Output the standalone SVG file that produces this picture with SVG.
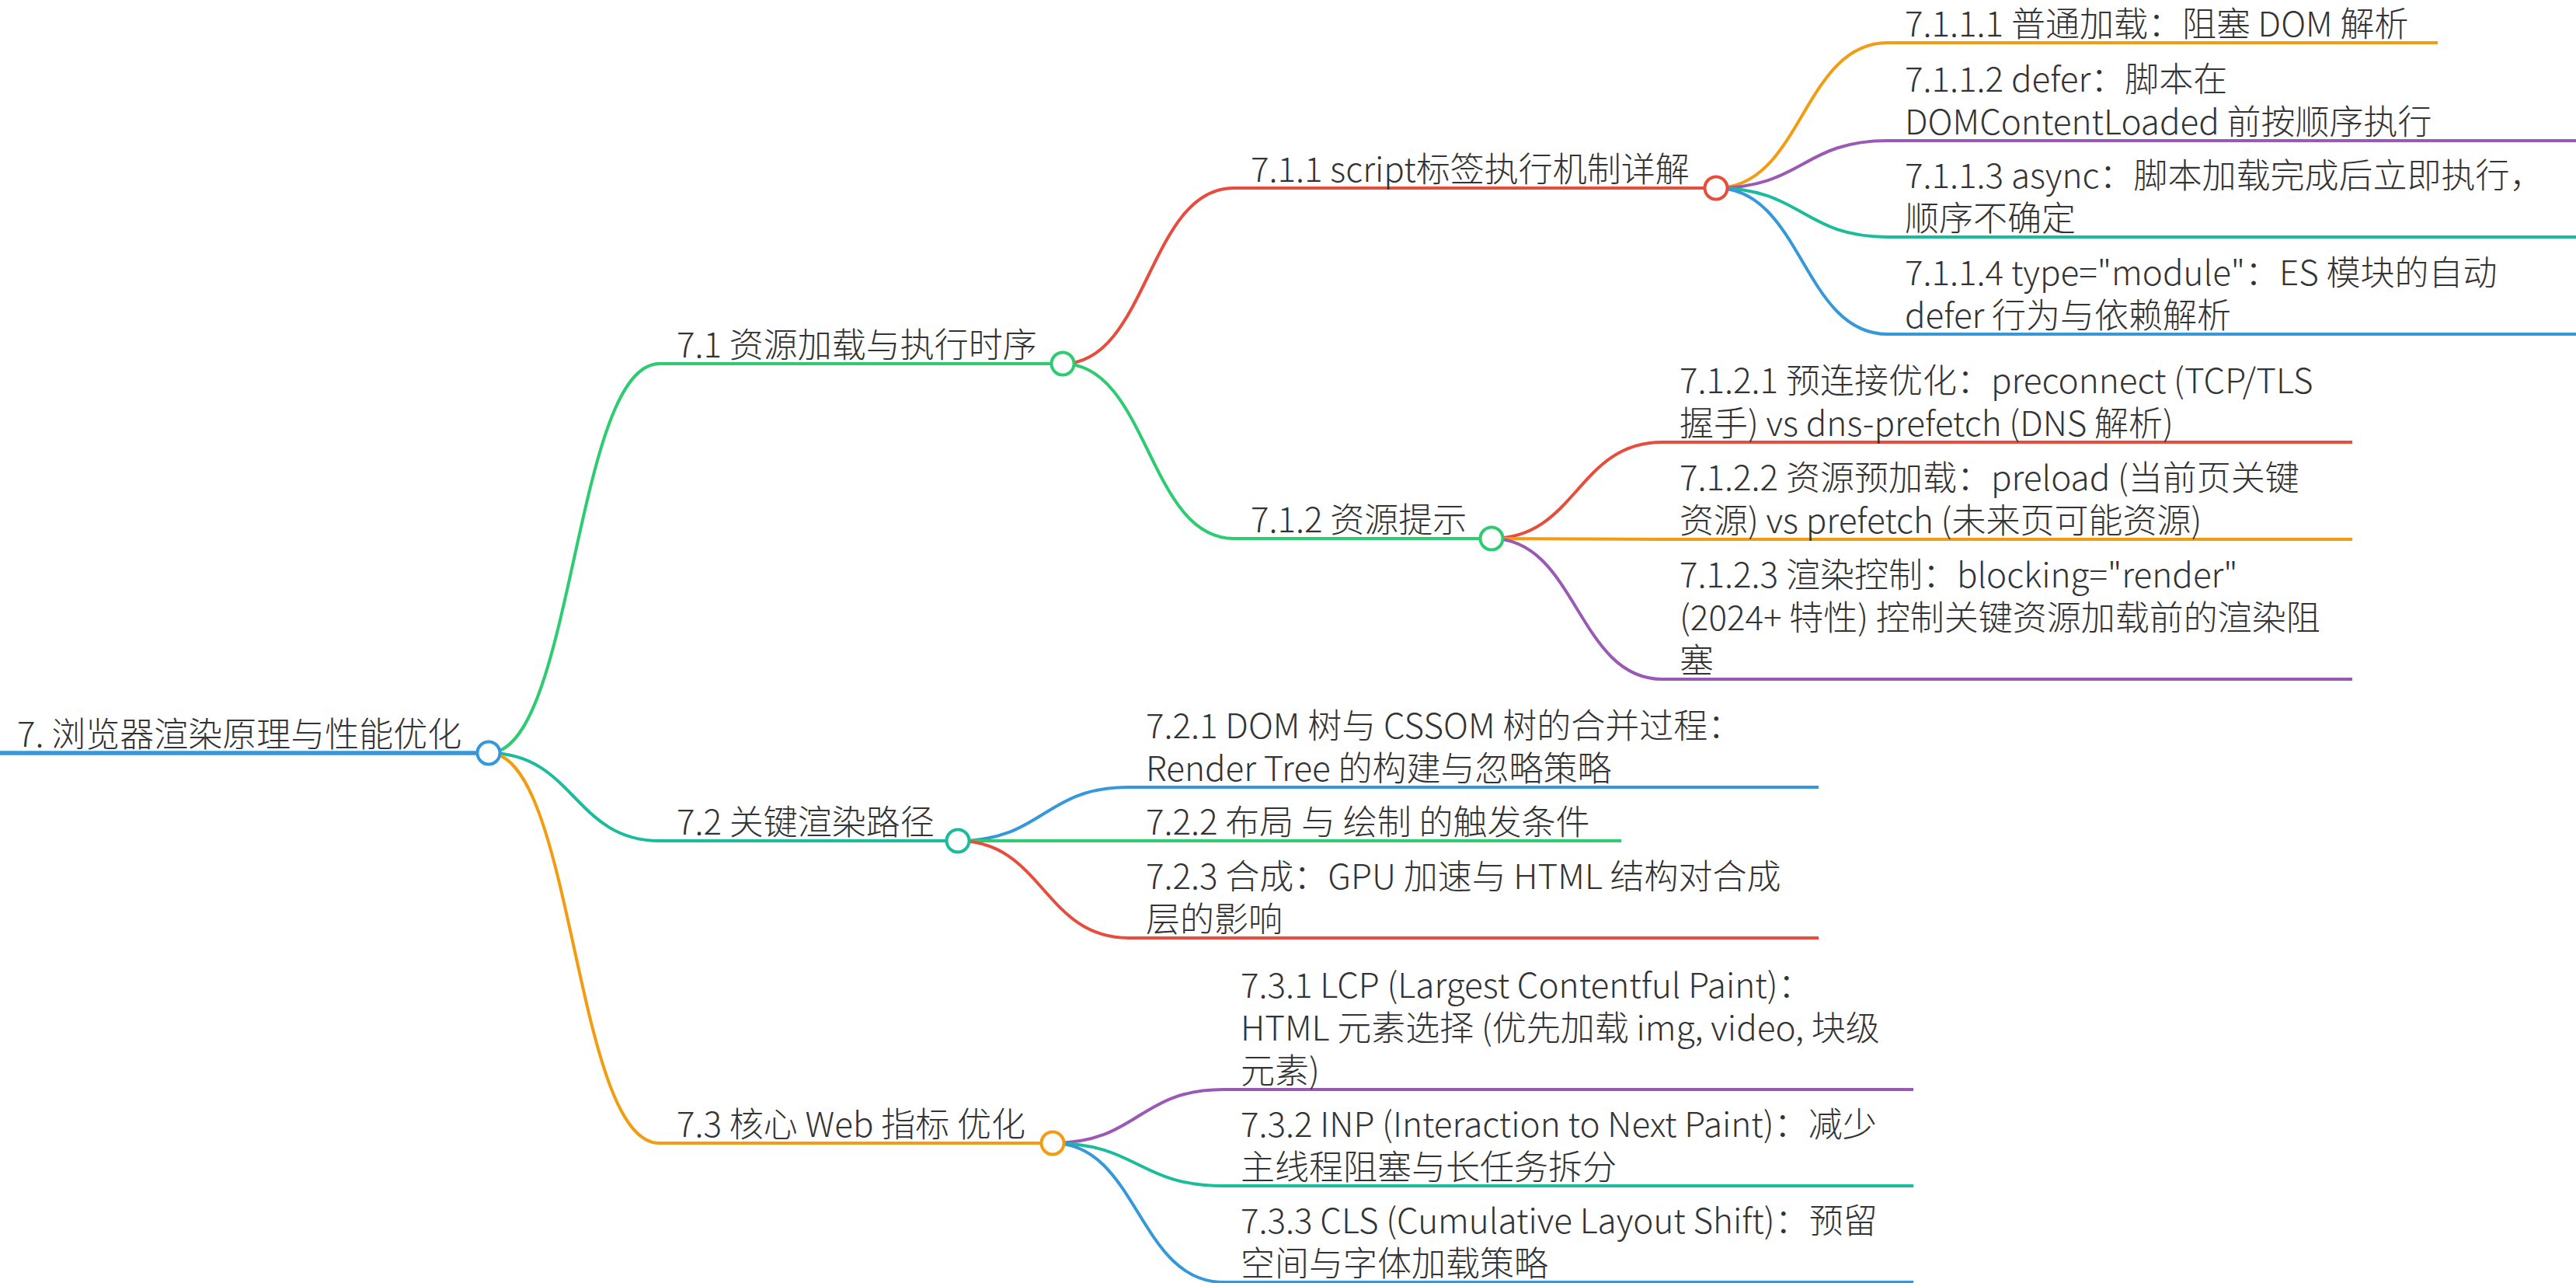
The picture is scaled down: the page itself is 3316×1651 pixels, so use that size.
<svg xmlns="http://www.w3.org/2000/svg" width="3316" height="1651" viewBox="0 0 3316 1651">
<style>
text{font-family:"Noto Sans CJK SC","Noto Sans",sans-serif;font-size:44px;font-weight:300;fill:#333}
.l{fill:none;stroke-width:4;stroke-linecap:round}
.u{stroke-width:4}
circle{fill:#fff;stroke-width:4}
.blue{stroke:#3498db}.green{stroke:#2ecc71}.teal{stroke:#1abc9c}.orange{stroke:#f39c12}.red{stroke:#e74c3c}.purple{stroke:#9b59b6}
</style>
<rect width="3316" height="1651" fill="#fff"/>
<g id="connectors">
<path class="l green" d="M629 969C739 969 739 468 849 468"/>
<path class="l teal" d="M629 969C739 969 739 1082 849 1082"/>
<path class="l orange" d="M629 969C739 969 739 1471 849 1471"/>
<path class="l red" d="M1368 468C1478 468 1478 242 1588 242"/>
<path class="l green" d="M1368 468C1478 468 1478 693 1588 693"/>
<path class="l orange" d="M2209 242C2320 242 2320 55 2430 55"/>
<path class="l purple" d="M2209 242C2320 242 2320 181 2430 181"/>
<path class="l teal" d="M2209 242C2320 242 2320 305 2430 305"/>
<path class="l blue" d="M2209 242C2320 242 2320 430 2430 430"/>
<path class="l red" d="M1920 693C2030 693 2030 569 2140 569"/>
<path class="l orange" d="M1920 693C2030 693 2030 694 2140 694"/>
<path class="l purple" d="M1920 693C2030 693 2030 874 2140 874"/>
<path class="l blue" d="M1233 1082C1343 1082 1343 1013 1453 1013"/>
<path class="l green" d="M1233 1082C1343 1082 1343 1082 1453 1082"/>
<path class="l red" d="M1233 1082C1343 1082 1343 1207 1453 1207"/>
<path class="l purple" d="M1355 1471C1465 1471 1465 1402 1575 1402"/>
<path class="l teal" d="M1355 1471C1465 1471 1465 1526 1575 1526"/>
<path class="l blue" d="M1355 1471C1465 1471 1465 1650 1575 1650"/>
</g>
<g id="n-root">
<line class="blue" x1="0" y1="969" x2="629" y2="969" stroke-width="5.5"/>
<text x="22" y="961">7. 浏览器渲染原理与性能优化</text>
<circle class="blue" cx="629" cy="969" r="14.5"/>
</g>
<g id="n-7-1">
<line class="u green" x1="849" y1="468" x2="1368" y2="468"/>
<text x="871" y="460">7.1 资源加载与执行时序</text>
<circle class="green" cx="1368" cy="468" r="14.5"/>
</g>
<g id="n-7-1-1">
<line class="u red" x1="1588" y1="242" x2="2209" y2="242"/>
<text x="1610" y="234">7.1.1 script标签执行机制详解</text>
<circle class="red" cx="2209" cy="242" r="14.5"/>
</g>
<g id="n-7-1-1-1">
<line class="u orange" x1="2430" y1="55" x2="3138" y2="55"/>
<text x="2452" y="47">7.1.1.1 普通加载：阻塞 DOM 解析</text>
</g>
<g id="n-7-1-1-2">
<line class="u purple" x1="2430" y1="181" x2="3318" y2="181"/>
<text x="2452" y="118">7.1.1.2 defer：脚本在<tspan x="2452" dy="55">DOMContentLoaded 前按顺序执行</tspan></text>
</g>
<g id="n-7-1-1-3">
<line class="u teal" x1="2430" y1="305" x2="3318" y2="305"/>
<text x="2452" y="242">7.1.1.3 async：脚本加载完成后立即执行，<tspan x="2452" dy="55">顺序不确定</tspan></text>
</g>
<g id="n-7-1-1-4">
<line class="u blue" x1="2430" y1="430" x2="3318" y2="430"/>
<text x="2452" y="367">7.1.1.4 type="module"：ES 模块的自动<tspan x="2452" dy="55">defer 行为与依赖解析</tspan></text>
</g>
<g id="n-7-1-2">
<line class="u green" x1="1588" y1="693" x2="1920" y2="693"/>
<text x="1610" y="685">7.1.2 资源提示</text>
<circle class="green" cx="1920" cy="693" r="14.5"/>
</g>
<g id="n-7-1-2-1">
<line class="u red" x1="2140" y1="569" x2="3028" y2="569"/>
<text x="2162" y="506">7.1.2.1 预连接优化：preconnect (TCP/TLS<tspan x="2162" dy="55">握手) vs dns-prefetch (DNS 解析)</tspan></text>
</g>
<g id="n-7-1-2-2">
<line class="u orange" x1="2140" y1="694" x2="3028" y2="694"/>
<text x="2162" y="631">7.1.2.2 资源预加载：preload (当前页关键<tspan x="2162" dy="55">资源) vs prefetch (未来页可能资源)</tspan></text>
</g>
<g id="n-7-1-2-3">
<line class="u purple" x1="2140" y1="874" x2="3028" y2="874"/>
<text x="2162" y="756">7.1.2.3 渲染控制：blocking="render"<tspan x="2162" dy="55">(2024+ 特性) 控制关键资源加载前的渲染阻</tspan><tspan x="2162" dy="55">塞</tspan></text>
</g>
<g id="n-7-2">
<line class="u teal" x1="849" y1="1082" x2="1233" y2="1082"/>
<text x="871" y="1074">7.2 关键渲染路径</text>
<circle class="teal" cx="1233" cy="1082" r="14.5"/>
</g>
<g id="n-7-2-1">
<line class="u blue" x1="1453" y1="1013" x2="2341" y2="1013"/>
<text x="1475" y="950">7.2.1 DOM 树与 CSSOM 树的合并过程：<tspan x="1475" dy="55">Render Tree 的构建与忽略策略</tspan></text>
</g>
<g id="n-7-2-2">
<line class="u green" x1="1453" y1="1082" x2="2087" y2="1082"/>
<text x="1475" y="1074">7.2.2 布局 与 绘制 的触发条件</text>
</g>
<g id="n-7-2-3">
<line class="u red" x1="1453" y1="1207" x2="2341" y2="1207"/>
<text x="1475" y="1144">7.2.3 合成：GPU 加速与 HTML 结构对合成<tspan x="1475" dy="55">层的影响</tspan></text>
</g>
<g id="n-7-3">
<line class="u orange" x1="849" y1="1471" x2="1355" y2="1471"/>
<text x="871" y="1463">7.3 核心 Web 指标 优化</text>
<circle class="orange" cx="1355" cy="1471" r="14.5"/>
</g>
<g id="n-7-3-1">
<line class="u purple" x1="1575" y1="1402" x2="2463" y2="1402"/>
<text x="1597" y="1284">7.3.1 LCP (Largest Contentful Paint)：<tspan x="1597" dy="55">HTML 元素选择 (优先加载 img, video, 块级</tspan><tspan x="1597" dy="55">元素)</tspan></text>
</g>
<g id="n-7-3-2">
<line class="u teal" x1="1575" y1="1526" x2="2463" y2="1526"/>
<text x="1597" y="1463">7.3.2 INP (Interaction to Next Paint)：减少<tspan x="1597" dy="55">主线程阻塞与长任务拆分</tspan></text>
</g>
<g id="n-7-3-3">
<line class="u blue" x1="1575" y1="1650" x2="2463" y2="1650"/>
<text x="1597" y="1587">7.3.3 CLS (Cumulative Layout Shift)：预留<tspan x="1597" dy="55">空间与字体加载策略</tspan></text>
</g>
</svg>
